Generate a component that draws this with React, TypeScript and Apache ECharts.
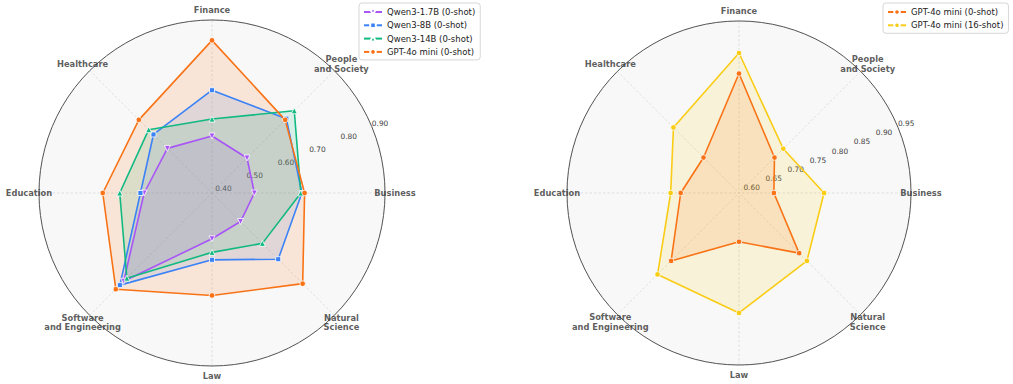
import React, { useEffect, useRef } from "react";
import * as echarts from "echarts";

// Domains, clockwise from the top
const categories = [
  "Finance",
  "People\nand Society",
  "Business",
  "Natural\nScience",
  "Law",
  "Software\nand Engineering",
  "Education",
  "Healthcare",
];

// Accuracy per domain
const qwen17b = [0.558, 0.536, 0.515, 0.509, 0.525, 0.758, 0.59, 0.576];
const qwen8b = [0.693, 0.7, 0.655, 0.666, 0.587, 0.774, 0.601, 0.634];
const qwen14b = [0.608, 0.733, 0.652, 0.6, 0.565, 0.745, 0.662, 0.654];
const gpt4oMini0 = [0.84, 0.695, 0.663, 0.768, 0.692, 0.791, 0.712, 0.695];
const gpt4oMini16 = [0.883, 0.721, 0.768, 0.791, 0.841, 0.831, 0.733, 0.784];

// Radial extents and labelled ticks
const leftRange = [0.39, 0.9];
const rightRange = [0.59, 0.95];
const leftTicks = [0.4, 0.5, 0.6, 0.7, 0.8, 0.9];
const rightTicks = [0.6, 0.65, 0.7, 0.75, 0.8, 0.85, 0.9, 0.95];

const leftNames = ["Qwen3-1.7B (0-shot)", "Qwen3-8B (0-shot)", "Qwen3-14B (0-shot)", "GPT-4o mini (0-shot)"];
const rightNames = ["GPT-4o mini (0-shot)", "GPT-4o mini (16-shot)"];

const COLORS = {
  purple: "#a855f7",
  blue: "#3b82f6",
  green: "#10b981",
  orange: "#f97316",
  yellow: "#facc15",
};

const FONT = "DejaVu Sans";
const STEP = 360 / categories.length; // degrees between domain spokes
const gridLine = { color: "#d6d6d6", type: [2.5, 2] as number[], width: 0.7 };

function tickFormatter(ticks: number[]) {
  return (v: number) => {
    const hit = ticks.find((t) => Math.abs(t - v) < 1e-6);
    return hit === undefined ? "" : hit.toFixed(2);
  };
}

function polarAxes(
  base: number,
  range: number[],
  ticks: number[],
  splitNumber: number
) {
  const angleAxis: any[] = [
    {
      polarIndex: base,
      type: "value",
      min: 0,
      max: 360,
      interval: STEP,
      startAngle: 90,
      clockwise: true,
      axisLine: { show: true, lineStyle: { color: "#555", width: 1 } },
      axisTick: { show: false },
      axisLabel: { show: false },
      splitLine: { show: true, lineStyle: gridLine },
    },
    {
      polarIndex: base + 1,
      type: "value",
      min: 0,
      max: 360,
      startAngle: 22.5,
      show: false,
    },
    {
      polarIndex: base + 2,
      type: "value",
      min: 0,
      max: 360,
      startAngle: 90,
      clockwise: true,
      show: false,
    },
  ];
  const radiusAxis: any[] = [
    {
      polarIndex: base,
      type: "value",
      min: range[0],
      max: range[1],
      splitNumber,
      axisLine: { show: false },
      axisTick: { show: false },
      axisLabel: { show: false },
      splitLine: { show: true, lineStyle: gridLine },
      splitArea: { show: true, areaStyle: { color: ["#f8f8f8"] } },
    },
    {
      polarIndex: base + 1,
      type: "value",
      min: range[0],
      max: range[1],
      splitNumber,
      axisLine: { show: false },
      axisTick: { show: false },
      splitLine: { show: false },
      axisLabel: {
        show: true,
        margin: 0,
        align: "left",
        verticalAlign: "bottom",
        fontSize: 7.4,
        color: "#444",
        fontFamily: FONT,
        showMinLabel: false,
        showMaxLabel: true,
        formatter: tickFormatter(ticks),
      },
    },
    {
      polarIndex: base + 2,
      type: "value",
      min: range[0],
      max: range[1],
      show: false,
    },
  ];
  return { angleAxis, radiusAxis };
}

function modelSeries(
  name: string,
  values: number[],
  color: string,
  symbol: string,
  polarIndex: number,
  symbolRotate = 0,
  symbolSize = 5
) {
  // closed ring: the first domain is repeated at a full turn
  const ring: any[] = values.map((v, i) => [v, i * STEP]);
  ring.push({ value: [values[0], 360], symbol: "none" });
  return {
    type: "line",
    name,
    coordinateSystem: "polar",
    polarIndex,
    clip: false,
    data: ring,
    symbol,
    symbolSize,
    symbolRotate,
    showSymbol: true,
    lineStyle: { color, width: 1.6 },
    itemStyle: { color, borderColor: "#ffffff", borderWidth: 0.8 },
    areaStyle: { color, opacity: 0.14 },
    emphasis: { disabled: true },
  };
}

function categoryLabels(polarIndex: number, max: number) {
  return {
    type: "scatter",
    coordinateSystem: "polar",
    polarIndex,
    silent: true,
    clip: false,
    symbolSize: 1,
    itemStyle: { color: "rgba(0,0,0,0)" },
    data: categories.map((_, i) => [max, i * STEP]),
    label: {
      show: true,
      position: "inside",
      formatter: (p: any) => categories[p.dataIndex],
      fontFamily: FONT,
      fontWeight: "bold",
      fontSize: 8.3,
      lineHeight: 9.8,
      color: "#333",
      align: "center",
    },
  };
}

const legendCommon = {
  orient: "vertical",
  top: 3,
  itemWidth: 18,
  itemHeight: 7,
  itemGap: 3.3,
  padding: [4, 5, 3, 4],
  borderColor: "#cccccc",
  borderWidth: 0.8,
  borderRadius: 3,
  backgroundColor: "#ffffff",
  textStyle: { fontFamily: FONT, fontSize: 8.5, color: "#222", lineHeight: 10 },
  selectedMode: false,
};

export default function App() {
  const ref = useRef<HTMLDivElement>(null);

  useEffect(() => {
    if (!ref.current) return;
    const chart = echarts.init(ref.current, undefined, { renderer: "svg" });

    const left = polarAxes(0, leftRange, leftTicks, 5);
    const right = polarAxes(3, rightRange, rightTicks, 7);

    chart.setOption({
      animation: false,
      backgroundColor: "#ffffff",
      textStyle: { fontFamily: FONT },
      polar: [
        { center: [212, 193], radius: 173 },
        { center: [212, 193], radius: 173 },
        { center: [212, 193], radius: 183 },
        { center: [739, 193], radius: 172 },
        { center: [739, 193], radius: 172 },
        { center: [739, 193], radius: 182 },
      ],
      angleAxis: [...left.angleAxis, ...right.angleAxis],
      radiusAxis: [...left.radiusAxis, ...right.radiusAxis],
      legend: [
        { ...legendCommon, left: 359, data: leftNames },
        { ...legendCommon, left: 883, data: rightNames },
      ],
      series: [
        modelSeries(leftNames[0], qwen17b, COLORS.purple, "triangle", 0, 180, 6),
        modelSeries(leftNames[1], qwen8b, COLORS.blue, "rect", 0, 0, 5),
        modelSeries(leftNames[2], qwen14b, COLORS.green, "triangle", 0, 0, 6),
        modelSeries(leftNames[3], gpt4oMini0, COLORS.orange, "circle", 0, 0, 5.5),
        categoryLabels(2, leftRange[1]),
        modelSeries(rightNames[0], gpt4oMini0, COLORS.orange, "circle", 3, 0, 5.5),
        modelSeries(rightNames[1], gpt4oMini16, COLORS.yellow, "circle", 3, 0, 5.5),
        categoryLabels(5, rightRange[1]),
      ],
    });

    return () => chart.dispose();
  }, []);

  return (
    <div
      ref={ref}
      style={{ position: "fixed", left: 0, top: 0, width: 1013, height: 384 }}
    />
  );
}
